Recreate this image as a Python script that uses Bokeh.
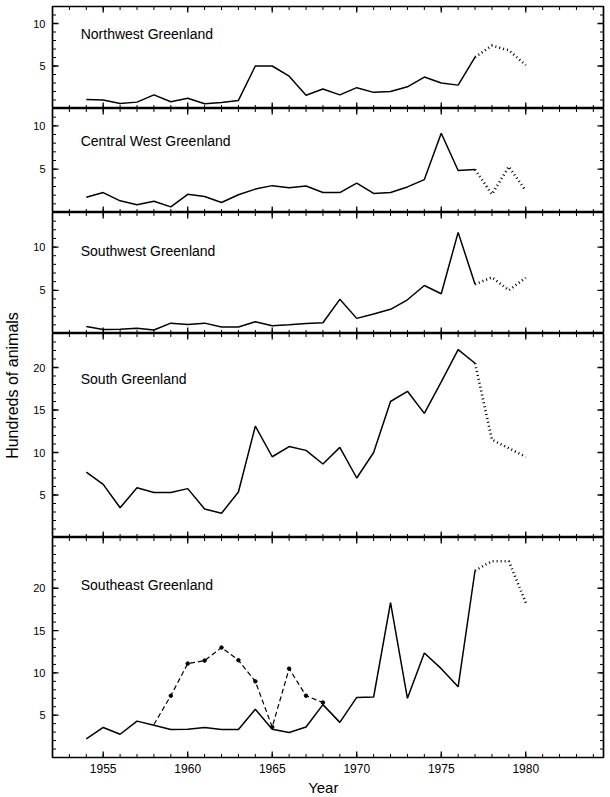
import math
from bokeh.plotting import figure
from bokeh.layouts import column, row
from bokeh.models import Range1d, FixedTicker, LinearAxis, Label
from bokeh.embed import file_html
from bokeh.resources import INLINE

# ---------------- data (hundreds of animals) ----------------
years_solid = list(range(1954, 1978))
years_dotted = [1977, 1978, 1979, 1980]
years_dashed = list(range(1958, 1969))

region_names = ["Northwest Greenland", "Central West Greenland", "Southwest Greenland",
                "South Greenland", "Southeast Greenland"]

nw_solid = [1.05, 1.0, 0.6, 0.75, 1.6, 0.8, 1.2, 0.55, 0.7, 0.95, 5.0, 5.0,
            3.8, 1.55, 2.3, 1.6, 2.45, 1.9, 2.0, 2.55, 3.7, 3.0, 2.75, 6.05]
nw_dotted = [6.05, 7.4, 6.85, 5.1]

cw_solid = [1.75, 2.3, 1.35, 0.9, 1.3, 0.65, 2.1, 1.85, 1.15, 2.05, 2.7, 3.1,
            2.85, 3.05, 2.3, 2.3, 3.4, 2.2, 2.3, 2.95, 3.8, 9.15, 4.85, 4.95]
cw_dotted = [4.95, 2.1, 5.3, 2.5]

sw_solid = [0.8, 0.45, 0.5, 0.6, 0.4, 1.2, 1.05, 1.2, 0.75, 0.75, 1.35, 0.9,
            1.0, 1.15, 1.25, 3.95, 1.75, 2.25, 2.8, 3.9, 5.55, 4.6, 11.7, 5.7]
sw_dotted = [5.7, 6.5, 5.0, 6.45]

s_solid = [7.7, 6.25, 3.5, 5.85, 5.3, 5.3, 5.75, 3.35, 2.85, 5.35, 13.1, 9.5,
           10.7, 10.25, 8.65, 10.6, 7.0, 10.0, 16.0, 17.2, 14.6, 18.3, 22.1, 20.5]
s_dotted = [20.5, 11.5, 10.5, 9.5]

se_solid = [2.2, 3.55, 2.75, 4.3, 3.8, 3.3, 3.35, 3.55, 3.3, 3.3, 5.7, 3.35,
            2.95, 3.6, 6.25, 4.15, 7.1, 7.15, 18.3, 7.0, 12.35, 10.5, 8.35, 22.1]
se_dotted = [22.1, 23.2, 23.2, 18.3]
se_dashed = [3.9, 7.3, 11.1, 11.45, 13.0, 11.5, 9.0, 3.6, 10.5, 7.3, 6.5]

y_max = [12, 12, 14, 24, 26]
y_major_small = [5, 10]
y_major_large = [5, 10, 15, 20]
x_major = [1955, 1960, 1965, 1970, 1975, 1980]
x_minor = list(range(1953, 1985))
X_START, X_END = 1952, 1984.6

# ---------------- layout constants ----------------
FONT = "Liberation Sans"
STRIP_W = 22
LEFT = 30
RIGHT = 5
FRAME_W = 551
frame_h = [102, 104, 121, 204, 220]
TOP = 6
AXIS_BOTTOM = 20
YEAR_H = 19
TOTAL_H = TOP + sum(frame_h) + AXIS_BOTTOM + YEAR_H
title_y = [8.74, 8.23, 9.54, 18.7, 20.4]
MAJ_LEN, MIN_LEN = 6, 3.5  # inward tick lengths, px

x_range = Range1d(X_START, X_END)

solids = [nw_solid, cw_solid, sw_solid, s_solid, se_solid]
dotteds = [nw_dotted, cw_dotted, sw_dotted, s_dotted, se_dotted]


def label_axis(ticks, font_size, standoff):
    return LinearAxis(
        ticker=FixedTicker(ticks=ticks, minor_ticks=[]),
        major_tick_in=0, major_tick_out=0, minor_tick_in=0, minor_tick_out=0,
        axis_line_color=None,
        major_label_text_font=FONT, major_label_text_color="black",
        major_label_text_font_size=font_size, major_label_standoff=standoff,
    )


def inward_ticks(p, ymax, major_y, minor_y):
    up, down, right, left = math.pi / 2, -math.pi / 2, 0.0, math.pi
    for ticks, length, width in ((x_minor, MIN_LEN, 1.0), (x_major, MAJ_LEN, 1.3)):
        p.ray(x=ticks, y=0, length=length, length_units="screen", angle=up,
              line_color="black", line_width=width)
        p.ray(x=ticks, y=ymax, length=length, length_units="screen", angle=down,
              line_color="black", line_width=width)
    for ticks, length, width in ((minor_y, MIN_LEN, 1.0), (major_y, MAJ_LEN, 1.3)):
        p.ray(x=X_START, y=ticks, length=length, length_units="screen", angle=right,
              line_color="black", line_width=width)
        p.ray(x=X_END, y=ticks, length=length, length_units="screen", angle=left,
              line_color="black", line_width=width)


panels = []
for i in range(5):
    last = i == 4
    ymax = y_max[i]
    p = figure(
        frame_width=FRAME_W, frame_height=frame_h[i],
        x_range=x_range, y_range=Range1d(0, ymax),
        output_backend="svg", toolbar_location=None,
        x_axis_location=None, y_axis_location=None,
        min_border_left=LEFT, min_border_right=RIGHT,
        min_border_top=TOP if i == 0 else 0,
        min_border_bottom=AXIS_BOTTOM if last else 0,
        outline_line_color="black", outline_line_width=1.7,
        background_fill_color="white", border_fill_color="white",
    )
    p.grid.grid_line_color = None

    major_y = y_major_small if ymax < 20 else y_major_large
    minor_y = list(range(1, ymax))
    inward_ticks(p, ymax, major_y, minor_y)

    p.add_layout(label_axis(major_y, "11px", 7), "left")
    if last:
        p.add_layout(label_axis(x_major, "12px", 6), "below")

    p.line(years_solid, solids[i], line_color="black", line_width=1.5)
    p.line(years_dotted, dotteds[i], line_color="black", line_width=2.6,
           line_dash="1 3")
    if last:
        p.line(years_dashed, se_dashed, line_color="black", line_width=1.2,
               line_dash="5 3")
        p.scatter(years_dashed[1:], se_dashed[1:], size=3.5, color="black")

    p.add_layout(Label(x=1953.67, y=title_y[i], text=region_names[i],
                       text_font=FONT, text_font_size="14px",
                       text_baseline="middle", text_color="black"))
    panels.append(p)

# "Year" caption in a thin strip under the bottom axis
year_w = LEFT + FRAME_W + RIGHT
year_fig = figure(
    width=year_w, height=YEAR_H, x_range=Range1d(0, year_w), y_range=Range1d(YEAR_H, 0),
    output_backend="svg", toolbar_location=None,
    x_axis_location=None, y_axis_location=None,
    min_border=0, outline_line_color=None,
)
year_fig.grid.grid_line_color = None
year_fig.add_layout(Label(x=310 - STRIP_W, y=10, text="Year", text_font=FONT,
                          text_font_size="15px", text_align="center",
                          text_baseline="middle", text_color="black"))

# y-axis title in a narrow strip spanning the full height
lab = figure(
    width=STRIP_W, height=TOTAL_H, x_range=Range1d(0, STRIP_W), y_range=Range1d(TOTAL_H, 0),
    output_backend="svg", toolbar_location=None,
    x_axis_location=None, y_axis_location=None,
    min_border=0, outline_line_color=None,
)
lab.grid.grid_line_color = None
lab.add_layout(Label(x=12, y=385, text="Hundreds of animals", angle=math.pi / 2,
                     text_font=FONT, text_font_size="16px", text_align="center",
                     text_baseline="middle", text_color="black"))

layout = row(lab, column(*panels, year_fig, spacing=0), spacing=0)

open("out.html", "w").write(file_html(layout, INLINE))
